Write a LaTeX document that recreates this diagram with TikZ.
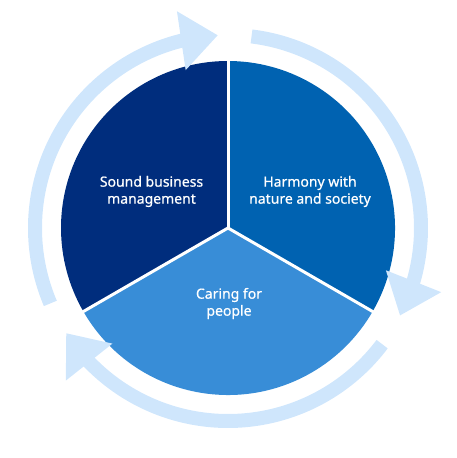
\documentclass[tikz,border=0pt]{standalone}
\usepackage{fontspec}
\setmainfont{Noto Sans}
\newfontfamily\labelfont{Noto Sans}[FakeBold=0.6]
\usetikzlibrary{arrows.meta,bending}

\definecolor{navy}{RGB}{0,45,125}
\definecolor{midblue}{RGB}{0,98,177}
\definecolor{lightblue}{RGB}{56,141,215}
\definecolor{ringblue}{RGB}{207,230,252}

\tikzset{
  ringarrow/.style={ringblue,line width=14pt,-{Triangle[width=57pt,length=37pt]}},
  label/.style={text=white,align=center,font=\labelfont\fontsize{14}{17}\selectfont}
}

\begin{document}
\begin{tikzpicture}[x=1pt,y=1pt]
\useasboundingbox (0,0) rectangle (457,458);

\coordinate (c) at (228,230);

%sectors
\fill[navy] (c) -- ++(90:167) arc[start angle=90,end angle=210,radius=167] -- cycle;
\fill[midblue] (c) -- ++(-30:167) arc[start angle=-30,end angle=90,radius=167] -- cycle;
\fill[lightblue] (c) -- ++(210:167) arc[start angle=210,end angle=330,radius=167] -- cycle;

%dividers
\draw[white,line width=3pt] (c) -- ++(90:170);
\draw[white,line width=3pt] (c) -- ++(210:170);
\draw[white,line width=3pt] (c) -- ++(330:170);

%ring arrows
\draw[ringarrow] (c) ++(203:193) arc[start angle=203,end angle=93,radius=193];
\draw[ringarrow] (c) ++(83:193) arc[start angle=83,end angle=-27,radius=193];
\draw[ringarrow] (c) ++(-37:193) arc[start angle=-37,end angle=-147,radius=193];

\node[label] (sound) at (151.5,266.5) {Sound business\\management};
\node[label] (harmony) at (310,266.5) {Harmony with\\nature and society};
\node[label] (caring) at (229,154.5) {Caring for\\people};
\end{tikzpicture}
\end{document}
